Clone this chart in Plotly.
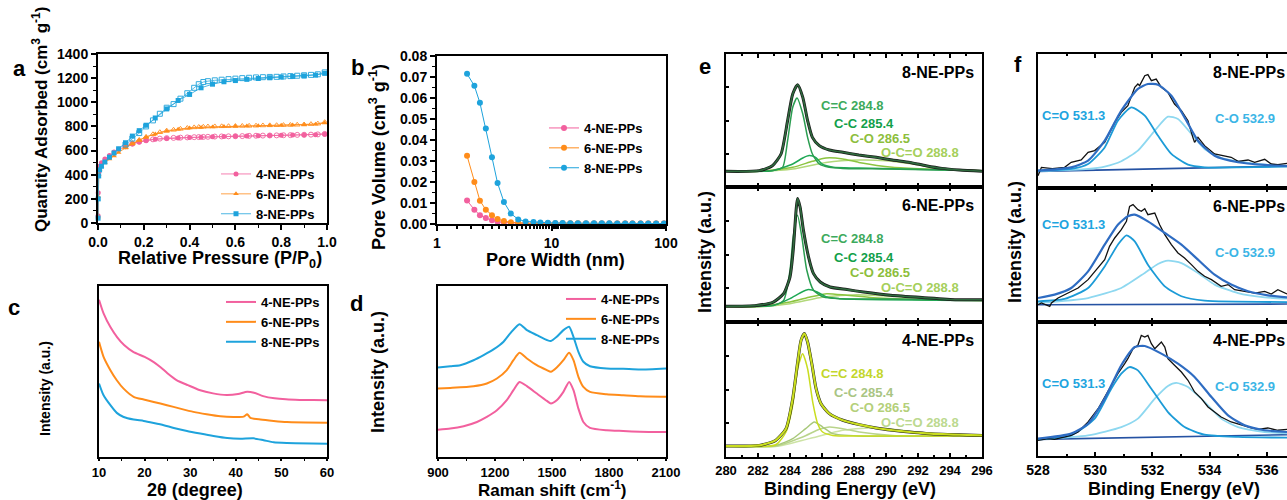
import plotly.graph_objects as go

W, H = 1287, 500
FONT = "Liberation Sans, Arial, sans-serif"

SAMPLES = ["4-NE-PPs", "6-NE-PPs", "8-NE-PPs"]
PINK, ORANGE, BLUE = "#F2609E", "#FF8C1A", "#1EA3DC"

# ---------------- (a) N2 isotherms ----------------
A_ADS_P = [0.0003, 0.001, 0.003, 0.007, 0.015, 0.03, 0.05, 0.07, 0.09, 0.12, 0.15, 0.18, 0.21, 0.25,
           0.3, 0.35, 0.4, 0.45, 0.5, 0.55, 0.6, 0.65, 0.7, 0.75, 0.8, 0.85, 0.9, 0.95, 0.99]
A4_ADS = [60, 250, 420, 470, 500, 530, 560, 588, 610, 635, 655, 670, 683, 693, 700, 705, 708, 711, 714,
          716, 718, 720, 722, 724, 726, 728, 730, 732, 736]
A6_ADS = [50, 220, 400, 445, 470, 500, 530, 556, 585, 622, 655, 685, 712, 738, 760, 776, 786, 792, 796,
          799, 801, 803, 805, 807, 809, 811, 814, 818, 828]
A8_ADS = [40, 200, 390, 440, 470, 505, 545, 580, 615, 665, 720, 765, 810, 870, 945, 1015, 1065, 1120,
          1150, 1170, 1180, 1190, 1197, 1203, 1209, 1214, 1218, 1225, 1240]
A_DES_P = [0.99, 0.96, 0.93, 0.9, 0.87, 0.84, 0.81, 0.78, 0.75, 0.72, 0.69, 0.66, 0.63, 0.6, 0.57, 0.54,
           0.51, 0.48, 0.46, 0.44, 0.42, 0.39, 0.36, 0.33, 0.3, 0.27, 0.24, 0.21, 0.18, 0.15, 0.12]
A4_DES = [738, 734, 732, 731, 730, 728, 727, 726, 725, 724, 723, 722, 720, 719, 718, 717, 716, 714, 713,
          712, 711, 709, 707, 705, 703, 699, 693, 685, 673, 658, 636]
A6_DES = [835, 823, 819, 816, 814, 812, 811, 810, 809, 808, 806, 805, 804, 803, 802, 801, 800, 799, 797,
          795, 792, 787, 780, 772, 765, 752, 735, 713, 688, 660, 628]
A8_DES = [1248, 1232, 1227, 1224, 1220, 1217, 1214, 1211, 1210, 1208, 1206, 1203, 1200, 1196, 1192, 1187,
          1182, 1175, 1168, 1150, 1120, 1075, 1030, 985, 955, 905, 850, 800, 745, 700, 650]

# ---------------- (b) pore size distribution ----------------
B_W = [1.83, 2.12, 2.37, 2.67, 3.02, 3.38, 3.84, 4.41, 5.12, 5.94, 6.96, 8.0, 9.3, 10.8, 12.5, 14.6, 17,
       20, 23.5, 27.5, 32, 37.5, 44, 51, 60, 70, 82, 96]
B4 = [0.0112, 0.0068, 0.0042, 0.0028, 0.0018, 0.0011, 0.0007, 0.0005, 0.0004, 0.0003, 0.0003, 0.0003,
      0.0002, 0.0002, 0.0002, 0.0002, 0.0002, 0.0002, 0.0002, 0.0002, 0.0002, 0.0002, 0.0002, 0.0002,
      0.0002, 0.0002, 0.0002, 0.0002]
B6 = [0.0325, 0.0200, 0.0111, 0.0068, 0.0042, 0.0024, 0.0014, 0.0008, 0.0005, 0.0004, 0.0004, 0.0003,
      0.0003, 0.0003, 0.0003, 0.0003, 0.0003, 0.0002, 0.0002, 0.0002, 0.0002, 0.0002, 0.0002, 0.0002,
      0.0002, 0.0002, 0.0002, 0.0002]
B8 = [0.0715, 0.0658, 0.0577, 0.0455, 0.0318, 0.0195, 0.0105, 0.0050, 0.0022, 0.0012, 0.0009, 0.0007,
      0.0006, 0.0005, 0.0005, 0.0004, 0.0004, 0.0003, 0.0003, 0.0003, 0.0003, 0.0002, 0.0002, 0.0002,
      0.0002, 0.0002, 0.0002, 0.0002]

# ---------------- (c) XRD ----------------
C4_X = [10, 11, 12.5, 14, 15.5, 17.5, 20, 22, 23.5, 25, 27, 29.5, 32, 35, 38, 40.5, 42.5, 44, 46, 48.5,
        51, 54, 57, 60]
C4_Y = [92, 84, 76, 70, 65.5, 61.5, 58.5, 55.5, 52.5, 49, 45, 42, 39.2, 37.2, 36.2, 36.8, 38.2, 37.6,
        35.6, 34.3, 33.7, 33.4, 33.3, 33.2]
C6_X = [10, 11, 12.5, 13.9, 15.4, 17.6, 19.8, 22, 24.9, 27.8, 30.7, 33.6, 36.6, 39.5, 41.7, 42.5, 43.2,
        45.4, 48.3, 51.2, 60]
C6_Y = [67.4, 58.6, 50.8, 44.9, 40.0, 35.2, 33.6, 32.2, 30.3, 28.3, 26.4, 25.0, 23.8, 23.4, 23.6, 25.0,
        22.9, 21.9, 21.1, 20.5, 20.1]
C8_X = [10, 11, 12.5, 13.9, 15.4, 17.6, 19.8, 22, 24.2, 26.4, 29.3, 32.2, 35.1, 38.1, 41, 43.9, 46.1,
        48.3, 51.2, 60]
C8_Y = [43.0, 36.1, 30.3, 25.8, 23.4, 21.9, 21.1, 19.9, 18.6, 17.0, 15.2, 13.7, 12.3, 11.1, 10.7, 10.9,
        9.8, 8.6, 8.2, 7.8]

# ---------------- (d) Raman ----------------
D4_X = [900, 965, 1035, 1105, 1157, 1210, 1262, 1297, 1329, 1368, 1420, 1473, 1494, 1525, 1560, 1590,
        1613, 1639, 1665, 1700, 1788, 1875, 1963, 2100]
D4_Y = [16.0, 16.6, 18.0, 20.5, 23.4, 27.3, 33.2, 39.1, 43.9, 41.4, 37.1, 32.8, 31.3, 33.2, 38.1, 43.9,
        39.1, 28.3, 20.5, 17.0, 15.6, 15.2, 14.8, 14.6]
D6_X = [900, 965, 1087, 1157, 1210, 1262, 1297, 1329, 1368, 1420, 1473, 1494, 1525, 1560, 1590, 1613,
        1639, 1665, 1700, 1788, 1875, 1963, 2100]
D6_Y = [40.0, 40.4, 41.4, 43.0, 45.9, 50.8, 56.6, 60.9, 57.6, 53.7, 50.8, 49.8, 52.3, 56.6, 60.9, 56.6,
        46.9, 41.0, 38.1, 36.7, 36.1, 35.5, 35.2]
D8_X = [900, 965, 1017, 1087, 1140, 1192, 1245, 1280, 1329, 1368, 1420, 1473, 1494, 1525, 1560, 1590,
        1613, 1639, 1665, 1700, 1788, 1875, 1963, 2100]
D8_Y = [52.3, 53.1, 53.7, 56.6, 59.6, 62.9, 67.4, 72.3, 77.7, 74.2, 71.3, 68.4, 67.8, 70.3, 74.2, 76.2,
        70.3, 61.5, 55.7, 53.1, 51.8, 51.6, 51.2, 51.8]

# ---------------- (e) C 1s XPS ----------------
E_LABELS = ["C=C 284.8", "C-C 285.4", "C-O 286.5", "O-C=O 288.8"]
E8_ENV_X = [280, 282.08, 282.9, 283.44, 283.85, 284.17, 284.48, 284.8, 285.1, 285.4, 285.83, 286.46,
            287.3, 288.3, 289.4, 290.4, 291.5, 292.5, 293.5, 294.6, 296]
E8_ENV_Y = [11.8, 12.3, 16, 24.8, 49.9, 69.9, 76.9, 67.4, 49.9, 37.3, 31.1, 27.8, 26.1, 24.1, 22.3, 20.3,
            18.5, 16, 14, 12.8, 11.8]
E8_CC2_X = [280, 283.0, 283.54, 283.85, 284.17, 284.44, 284.8, 285.1, 285.4, 285.83, 286.46, 287.3, 290, 296]
E8_CC2_Y = [11.8, 12.5, 14.8, 34.8, 59.9, 66.9, 54.9, 37.3, 24.8, 17.3, 14.8, 14, 13.5, 12.3]
E8_CC_X = [280, 282.9, 284.17, 284.8, 285.2, 285.6, 286.0, 286.7, 288.3, 296]
E8_CC_Y = [11.8, 12.3, 17.3, 21.8, 23.6, 22.3, 17.3, 14.8, 14.3, 12.3]
E8_CO_X = [280, 282.08, 284.17, 285.4, 286.25, 287.3, 288.3, 290.4, 292.5, 296]
E8_CO_Y = [11.8, 11.8, 14.8, 19.3, 21.8, 21.1, 18.5, 14.8, 13.5, 12.3]
E8_OCO_X = [280, 282.08, 284.17, 286.25, 288.3, 290, 291.7, 293.5, 296]
E8_OCO_Y = [11.8, 11.8, 13.5, 18.5, 20.3, 19.8, 17.3, 13.5, 12.3]

E6_ENV_X = [280, 281.9, 282.96, 283.6, 284.0, 284.2, 284.38, 284.47, 284.63, 284.84, 285.16, 285.47,
            285.89, 286.5, 287.56, 288.6, 290.3, 292.4, 294.4, 296]
E6_ENV_Y = [11.6, 12.3, 14.8, 21, 33.3, 53, 82.7, 91.4, 85.2, 67.9, 48.1, 35.8, 29.6, 25.9, 24, 22.2,
            19.8, 18, 16.5, 16.5]
E6_CC2_X = [280, 283.0, 283.6, 284.0, 284.2, 284.47, 284.74, 285.05, 285.47, 286.1, 287.1, 290, 296]
E6_CC2_Y = [11.6, 12.5, 16, 38.3, 63, 79, 63, 38.3, 23.5, 18.5, 17.3, 17, 16.3]
E6_CC_X = [280, 282.96, 284.0, 284.63, 285.16, 285.7, 286.3, 287.1, 296]
E6_CC_Y = [11.6, 12.3, 17.3, 21.5, 24, 22.2, 18.5, 17.3, 16]
E6_CO_X = [280, 281.9, 284.0, 285.26, 286.3, 287.56, 289.2, 292.4, 296]
E6_CO_Y = [11.6, 11.6, 14.8, 18.5, 21, 19.8, 18, 16.5, 16]
E6_OCO_X = [280, 281.9, 284.0, 286.1, 288.2, 290.3, 292.4, 296]
E6_OCO_Y = [11.1, 11.1, 13.6, 18.5, 20.2, 19, 17.3, 16]

E4_ENV_X = [280, 282.08, 283.1, 283.75, 284.17, 284.48, 284.69, 284.9, 285.1, 285.38, 285.63, 285.94,
            286.46, 287.3, 288.33, 289.38, 290.42, 291.46, 292.5, 294.6, 296]
E4_ENV_Y = [8.1, 8.6, 12.3, 21, 43.2, 70.4, 86.4, 91.4, 85.2, 67.9, 50.6, 39.5, 32.1, 27.2, 24, 21.5,
            19.8, 18.5, 17.5, 16.5, 16]
E4_CC2_X = [280, 283.1, 283.75, 284.17, 284.48, 284.79, 285.1, 285.42, 285.73, 286.04, 286.67, 288.33, 296]
E4_CC2_Y = [8.1, 9.1, 18.5, 38.3, 65.4, 76.5, 65.4, 40.7, 24.7, 18.5, 16, 15.6, 15.6]
E4_CC_X = [280, 283.1, 284.17, 284.98, 285.52, 286.04, 286.67, 288.33, 296]
E4_CC_Y = [8.1, 8.6, 13.6, 21, 25.9, 22.2, 17.3, 15.6, 15.6]
E4_CO_X = [280, 283.1, 284.79, 285.83, 286.46, 287.3, 288.33, 290.42, 296]
E4_CO_Y = [8.1, 8.1, 14.8, 20.5, 22.2, 21, 18.5, 16, 15.6]
E4_OCO_X = [280, 283.1, 285.2, 287.3, 288.96, 290.42, 292.5, 294.6, 296]
E4_OCO_Y = [7.7, 7.7, 13.6, 19.8, 21.5, 20.5, 17.8, 16, 15.6]

# ---------------- (f) O 1s XPS ----------------
F_LABELS = ["C=O 531.3", "C-O 532.9"]
F8_RAW_X = [528.0, 528.12, 528.5, 528.93, 529.16, 529.51, 529.75, 529.98, 530.33, 530.68, 530.91, 531.14,
            531.38, 531.49, 531.55, 531.73, 531.84, 531.96, 532.13, 532.31, 532.54, 532.77, 533.01, 533.24,
            533.41, 533.47, 533.59, 533.82, 534.17, 534.52, 534.75, 534.99, 535.34, 535.57, 535.80, 535.92,
            536.15, 536.38, 536.7]
F8_RAW_Y = [9.2, 15.4, 14.5, 15.4, 19.2, 20.9, 26.6, 27.9, 34.1, 49.0, 56.5, 61.4, 75.1, 77.6, 76.4, 83.8,
            84.6, 80.1, 81.3, 75.1, 71.4, 62.7, 57.7, 50.2, 37.8, 34.1, 37.8, 31.6, 25.4, 24.1, 22.9, 19.9,
            20.9, 19.2, 20.4, 21.4, 17.9, 17.4, 18.4]
F8_ENV_X = [528.0, 529.16, 529.75, 530.33, 530.91, 531.49, 531.84, 532.19, 532.66, 533.12, 533.59, 534.17,
            534.99, 535.92, 536.7]
F8_ENV_Y = [12.9, 15.4, 20.4, 35.3, 57.7, 73.9, 77.6, 77.1, 68.9, 52.7, 35.3, 24.1, 19.2, 17.2, 16.4]
F8_CDO_X = [528.0, 529.16, 529.75, 530.33, 530.79, 531.26, 531.73, 532.19, 532.66, 533.24, 533.82, 534.99, 536.7]
F8_CDO_Y = [12.9, 14.2, 17.9, 30.3, 50.2, 60.2, 54.0, 39.1, 25.4, 17.4, 15.4, 15.4, 15.9]
F8_CO_X = [528.0, 529.75, 530.33, 530.91, 531.49, 532.08, 532.54, 532.89, 533.36, 533.82, 534.4, 534.99,
           535.92, 536.7]
F8_CO_Y = [12.4, 14.2, 16.0, 20.0, 27.9, 42.8, 53.2, 51.5, 40.3, 29.1, 22.4, 19.9, 17.4, 16.7]
F8_BASE_X = [528.0, 536.7]
F8_BASE_Y = [12.4, 16.4]

F6_RAW_X = [528.0, 528.12, 528.41, 528.47, 528.70, 529.05, 529.40, 529.75, 529.98, 530.15, 530.33, 530.50,
            530.68, 530.91, 531.09, 531.20, 531.32, 531.49, 531.61, 531.73, 531.84, 532.08, 532.25, 532.43,
            532.66, 532.89, 533.12, 533.36, 533.59, 533.82, 534.06, 534.40, 534.64, 534.87, 535.22, 535.57,
            535.92, 536.15, 536.38, 536.7]
F6_RAW_Y = [12.9, 14.2, 11.7, 14.2, 17.9, 21.6, 25.4, 31.6, 37.8, 41.5, 46.5, 56.5, 62.7, 68.9, 75.1, 86.3,
            87.6, 83.8, 82.6, 84.6, 80.1, 81.3, 72.6, 65.2, 57.7, 51.5, 47.8, 42.8, 37.8, 34.1, 31.6, 26.6,
            27.9, 24.1, 22.9, 21.6, 22.9, 20.9, 24.1, 20.9]
F6_ENV_X = [528.0, 528.58, 529.16, 529.75, 530.33, 530.79, 531.14, 531.38, 531.84, 532.43, 533.01, 533.59,
            534.17, 534.75, 535.34, 536.03, 536.7]
F6_ENV_Y = [17.9, 20.4, 25.4, 37.8, 57.7, 72.6, 78.9, 80.1, 75.1, 66.4, 57.7, 46.5, 35.3, 27.9, 22.9, 19.9, 18.4]
F6_CDO_X = [528.0, 528.93, 529.75, 530.33, 530.79, 531.09, 531.38, 531.84, 532.43, 533.01, 533.82, 536.7]
F6_CDO_Y = [15.4, 17.2, 25.4, 41.5, 57.7, 64.7, 60.2, 42.8, 26.6, 19.2, 15.9, 14.9]
F6_CO_X = [528.0, 529.75, 530.91, 531.73, 532.19, 532.54, 533.01, 533.59, 534.17, 534.99, 535.92, 536.7]
F6_CO_Y = [14.2, 17.9, 25.4, 36.6, 43.3, 45.8, 44.0, 36.6, 27.9, 21.6, 18.4, 17.4]
F6_BASE_X = [528.0, 536.7]
F6_BASE_Y = [12.9, 13.4]

F4_RAW_X = [528.0, 528.35, 528.58, 528.93, 529.16, 529.40, 529.75, 530.10, 530.33, 530.56, 530.79, 531.03,
            531.14, 531.32, 531.49, 531.61, 531.73, 531.84, 531.96, 532.08, 532.19, 532.31, 532.43, 532.54,
            532.77, 533.01, 533.24, 533.47, 533.71, 533.94, 534.17, 534.40, 534.75, 535.10, 535.45, 535.69,
            536.03, 536.38, 536.7]
F4_RAW_Y = [11.7, 12.9, 12.4, 14.2, 15.4, 17.9, 25.4, 35.3, 44.0, 52.7, 61.4, 68.9, 72.6, 80.1, 82.6, 90.0,
            88.8, 90.0, 83.8, 80.1, 82.6, 85.1, 81.3, 72.6, 67.7, 62.7, 56.5, 47.8, 42.8, 36.6, 32.8, 29.1,
            25.4, 22.9, 20.9, 19.9, 20.9, 19.2, 19.9]
F4_ENV_X = [528.0, 529.16, 529.75, 530.33, 530.91, 531.38, 531.73, 532.31, 532.89, 533.47, 534.06, 534.64,
            535.22, 535.92, 536.7]
F4_ENV_Y = [12.9, 16.7, 24.1, 42.8, 67.7, 81.3, 82.1, 76.4, 68.9, 59.0, 44.0, 30.3, 22.9, 19.2, 17.9]
F4_CDO_X = [528.0, 529.16, 529.98, 530.56, 530.91, 531.20, 531.49, 531.96, 532.54, 533.12, 533.82, 534.99, 536.7]
F4_CDO_Y = [12.4, 15.4, 27.9, 50.2, 61.4, 66.4, 63.9, 50.2, 32.8, 21.6, 15.9, 14.2, 13.7]
F4_CO_X = [528.0, 529.75, 530.91, 531.49, 532.08, 532.54, 532.83, 533.24, 533.82, 534.40, 534.99, 535.92, 536.7]
F4_CO_Y = [12.4, 15.4, 21.6, 27.9, 42.8, 52.2, 54.5, 51.5, 40.3, 27.9, 21.6, 17.9, 16.9]
F4_BASE_X = [528.0, 536.7]
F4_BASE_Y = [12.4, 15.9]

# =====================================================================
def xd(p0, p1):
    return [p0 / W, min(p1 / W, 1.0)]


def yd(top, bottom):
    return [1 - bottom / H, 1 - top / H]


def tfont(size=14):
    return dict(family=FONT, size=size, color="black", weight="bold")


def axis(domain, anchor, **kw):
    base = dict(domain=domain, anchor=anchor, showline=True, linewidth=2, linecolor="black", mirror=True,
                ticks="outside", ticklen=5, tickwidth=1.5, tickcolor="black", tickfont=tfont(14),
                showgrid=False, zeroline=False, automargin=False)
    base.update(kw)
    return base


fig = go.Figure()


def line(x, y, xa, ya, color, width=1.5, name=None, legend=None, shape="spline", **kw):
    fig.add_trace(go.Scatter(x=x, y=y, xaxis=xa, yaxis=ya, mode="lines",
                             line=dict(color=color, width=width, shape=shape, smoothing=0.6),
                             name=name, showlegend=legend is not None,
                             legend=legend if legend else "legend", hoverinfo="skip", **kw))


# (a)
for nm, col, sym, ads, des in [(SAMPLES[0], PINK, "circle", A4_ADS, A4_DES),
                               (SAMPLES[1], ORANGE, "triangle-up", A6_ADS, A6_DES),
                               (SAMPLES[2], BLUE, "square", A8_ADS, A8_DES)]:
    fig.add_trace(go.Scatter(x=A_DES_P, y=des, xaxis="x", yaxis="y", mode="lines+markers",
                             line=dict(color=col, width=0.8), opacity=0.9,
                             marker=dict(symbol=sym + "-open", size=5, color=col, line=dict(width=1)),
                             showlegend=False, cliponaxis=False))
    fig.add_trace(go.Scatter(x=A_ADS_P, y=ads, xaxis="x", yaxis="y", mode="lines+markers",
                             line=dict(color=col, width=0.8),
                             marker=dict(symbol=sym, size=5, color=col), name=nm, legend="legend",
                             cliponaxis=False))

# (b)
for nm, col, vals in [(SAMPLES[0], PINK, B4), (SAMPLES[1], ORANGE, B6), (SAMPLES[2], BLUE, B8)]:
    fig.add_trace(go.Scatter(x=B_W, y=vals, xaxis="x2", yaxis="y2", mode="lines+markers",
                             line=dict(color=col, width=1), marker=dict(symbol="circle", size=6, color=col),
                             name=nm, legend="legend2", cliponaxis=False))

# (c)
for nm, col, xs, ys in [(SAMPLES[0], PINK, C4_X, C4_Y), (SAMPLES[1], ORANGE, C6_X, C6_Y),
                        (SAMPLES[2], BLUE, C8_X, C8_Y)]:
    line(xs, ys, "x3", "y3", col, 2, nm, "legend3")

# (d)
for nm, col, xs, ys in [(SAMPLES[0], PINK, D4_X, D4_Y), (SAMPLES[1], ORANGE, D6_X, D6_Y),
                        (SAMPLES[2], BLUE, D8_X, D8_Y)]:
    line(xs, ys, "x4", "y4", col, 2, nm, "legend4")

# (e)
GREEN_LINES = ["#2A9D50", "#1FA855", "#8CC43F", "#B2D87A"]
GREEN_TEXT = ["#3DAA5C", "#12A04A", "#8DBE3C", "#A5CF5B"]
YEL_LINES = ["#C9DD1F", "#A8C87A", "#B9D48B", "#CDE3A5"]
YEL_TEXT = ["#C3D62B", "#A9C583", "#B4D07A", "#BCD98F"]

E_SETS = [
    ("x5", "y5", E8_ENV_X, E8_ENV_Y, [(E8_CC2_X, E8_CC2_Y), (E8_CC_X, E8_CC_Y), (E8_CO_X, E8_CO_Y),
                                       (E8_OCO_X, E8_OCO_Y)], GREEN_LINES, "#2F6B3E", 1.6),
    ("x6", "y6", E6_ENV_X, E6_ENV_Y, [(E6_CC2_X, E6_CC2_Y), (E6_CC_X, E6_CC_Y), (E6_CO_X, E6_CO_Y),
                                       (E6_OCO_X, E6_OCO_Y)], GREEN_LINES, "#2F6B3E", 1.6),
    ("x7", "y7", E4_ENV_X, E4_ENV_Y, [(E4_CC2_X, E4_CC2_Y), (E4_CC_X, E4_CC_Y), (E4_CO_X, E4_CO_Y),
                                       (E4_OCO_X, E4_OCO_Y)], YEL_LINES, "#C9DD1F", 2.2),
]
for xa, ya, ex, ey, comps, cols, fitcol, fw in E_SETS:
    for (cx, cy), c in reversed(list(zip(comps, cols))):
        line(cx, cy, xa, ya, c, 1.5)
    line(ex, ey, xa, ya, "#1a1a1a", 3.0)
    line(ex, ey, xa, ya, fitcol, fw)

# (f)
F_SETS = [
    ("x8", "y8", F8_RAW_X, F8_RAW_Y, F8_ENV_X, F8_ENV_Y, F8_CDO_X, F8_CDO_Y, F8_CO_X, F8_CO_Y, F8_BASE_X, F8_BASE_Y),
    ("x9", "y9", F6_RAW_X, F6_RAW_Y, F6_ENV_X, F6_ENV_Y, F6_CDO_X, F6_CDO_Y, F6_CO_X, F6_CO_Y, F6_BASE_X, F6_BASE_Y),
    ("x10", "y10", F4_RAW_X, F4_RAW_Y, F4_ENV_X, F4_ENV_Y, F4_CDO_X, F4_CDO_Y, F4_CO_X, F4_CO_Y, F4_BASE_X, F4_BASE_Y),
]
for xa, ya, rx, ry, ex, ey, ax_, ay_, bx, by, blx, bly in F_SETS:
    line(blx, bly, xa, ya, "#2552A3", 1.6, shape="linear")
    line(bx, by, xa, ya, "#8ED8F0", 1.8)
    line(ax_, ay_, xa, ya, "#1C9BD7", 1.8)
    line(rx, ry, xa, ya, "#111111", 1.3, shape="linear")
    line(ex, ey, xa, ya, "#2E6CC2", 2.2)

# ---------------- layout ----------------
minor = lambda d, t="outside", ln=3: dict(ticks=t, ticklen=ln, tickwidth=1.2, tickcolor="black", dtick=d)
lay = dict(width=W, height=H, margin=dict(l=0, r=0, t=0, b=0, autoexpand=False), paper_bgcolor="white",
           plot_bgcolor="white", font=dict(family=FONT, color="black"))

# a
lay["xaxis"] = axis(xd(98, 327), "y", range=[0, 1], dtick=0.2, tickformat=".1f", minor=minor(0.1))
lay["yaxis"] = axis(yd(54, 223), "x", range=[0, 1400], dtick=200, minor=minor(100))
# b
lay["xaxis2"] = axis(xd(437, 666), "y2", type="log", range=[0, 2], tickvals=[1, 10, 100],
                     minor=dict(ticks="outside", ticklen=3, tickcolor="black", showgrid=False))
lay["yaxis2"] = axis(yd(56, 224), "x2", range=[0, 0.08], dtick=0.01, tickformat=".2f", minor=minor(0.005))
# c
lay["xaxis3"] = axis(xd(99, 327), "y3", range=[10, 60], dtick=10, ticklen=2, tickfont=tfont(13),
                     minor=minor(5, ln=2))
lay["yaxis3"] = axis(yd(286, 457), "x3", range=[0, 100], ticks="", showticklabels=False)
# d
lay["xaxis4"] = axis(xd(438, 666), "y4", range=[900, 2100], dtick=300, ticklen=2, tickfont=tfont(13),
                     minor=minor(150, ln=2))
lay["yaxis4"] = axis(yd(286, 457), "x4", range=[0, 100], ticks="", showticklabels=False)
# e
for i, (top, bot) in zip([5, 6, 7], [(54, 187), (187, 322), (322, 457)]):
    lay[f"xaxis{i}"] = axis(xd(726, 982), f"y{i}", range=[280, 296], dtick=2, ticks="inside",
                            mirror="ticks", ticklen=4, tickfont=tfont(13), showticklabels=(i == 7),
                            minor=dict(ticks="inside", ticklen=2, dtick=1, tickcolor="black"))
    lay[f"yaxis{i}"] = axis(yd(top, bot), f"x{i}", range=[0, 100], dtick=25, ticks="inside",
                            ticklen=3, showticklabels=False)
# f
for i, (top, bot) in zip([8, 9, 10], [(54, 188), (188, 322), (322, 456)]):
    lay[f"xaxis{i}"] = axis(xd(1038, 1287), f"y{i}", range=[528, 536.7], dtick=2, ticks="inside",
                            mirror="ticks", ticklen=4, tickfont=tfont(14), showticklabels=(i == 10),
                            minor=dict(ticks="inside", ticklen=2, dtick=1, tickcolor="black"))
    lay[f"yaxis{i}"] = axis(yd(top, bot), f"x{i}", range=[0, 100], ticks="", showticklabels=False,
                            mirror=False)

leg = lambda xpx, ypx: dict(x=xpx / W, y=1 - ypx / H, xanchor="left", yanchor="top",
                            bgcolor="rgba(0,0,0,0)", font=tfont(13), tracegroupgap=0, itemwidth=30)
lay["legend"] = leg(258 - 42, 173 - 14)
lay["legend2"] = leg(586 - 42, 129 - 16)
lay["legend3"] = leg(263 - 42, 302 - 15)
lay["legend4"] = leg(603 - 42, 299 - 15)

ann = []


def pa(text, xpx, ypx, size, angle=0, color="black", xanchor="center"):
    ann.append(dict(text=text, x=xpx / W, y=1 - ypx / H, xref="paper", yref="paper", showarrow=False,
                    textangle=angle, xanchor=xanchor, yanchor="middle", font=tfont(size) | dict(color=color)))


def da(text, x, y, xa, ya, size, color="black", xanchor="center"):
    ann.append(dict(text=text, x=x, y=y, xref=xa, yref=ya, showarrow=False, xanchor=xanchor,
                    yanchor="middle", font=tfont(size) | dict(color=color)))


# panel letters
for t, xp, yp in [("a", 19, 68), ("b", 357, 67), ("c", 14, 307), ("d", 356, 303), ("e", 705, 66), ("f", 1018, 64)]:
    pa(t, xp, yp, 22)

# axis titles
pa("Relative Pressure (P/P<sub>0</sub>)", 220, 259, 18)
pa("Quantity Adsorbed (cm<sup>3</sup> g<sup>-1</sup>)", 40, 120, 17, -90)
pa("Pore Width (nm)", 555, 260, 18)
pa("Pore Volume (cm<sup>3</sup> g<sup>-1</sup>)", 377, 157, 18, -90)
pa("2θ (degree)", 195, 490, 18)
pa("Intensity (a.u.)", 45, 389, 14, -90)
pa("Raman shift (cm<sup>-1</sup>)", 552, 489, 17)
pa("Intensity (a.u.)", 378, 372, 18, -90)
pa("Binding Energy (eV)", 850, 489, 18)
pa("Intensity (a.u.)", 705, 252, 18, -90)
pa("Binding Energy (eV)", 1174, 489, 18)
pa("Intensity (a.u.)", 1015, 242, 18, -90)

# e labels
E_TEXT_POS = [(287.9, 61.5), (288.6, 47.5), (289.6, 36.8), (292.1, 25.6)]
for (xa, ya, name, cols) in [("x5", "y5", SAMPLES[2], GREEN_TEXT), ("x6", "y6", SAMPLES[1], GREEN_TEXT),
                             ("x7", "y7", SAMPLES[0], YEL_TEXT)]:
    da(name, 295.6, 86, xa, ya, 16, xanchor="right")
    for lab, (px, py), c in zip(E_LABELS, E_TEXT_POS, cols):
        da(lab, px, py, xa, ya, 13, c)

# f labels
for xa, ya, name, y1 in [("x8", "y8", SAMPLES[2], 54), ("x9", "y9", SAMPLES[1], 72.6),
                         ("x10", "y10", SAMPLES[0], 54)]:
    da(name, 534.04, 86, xa, ya, 16, xanchor="left")
    da(F_LABELS[0], 529.25, y1, xa, ya, 13, "#1EA5DF")
    da(F_LABELS[1], 535.23, 51.5, xa, ya, 13, "#3BB5E6")

lay["annotations"] = ann
fig.update_layout(**lay)
fig.write_html("out.html",
               post_script="document.body.style.margin='0';document.body.style.padding='0';"
                           "document.documentElement.style.overflow='hidden';")
